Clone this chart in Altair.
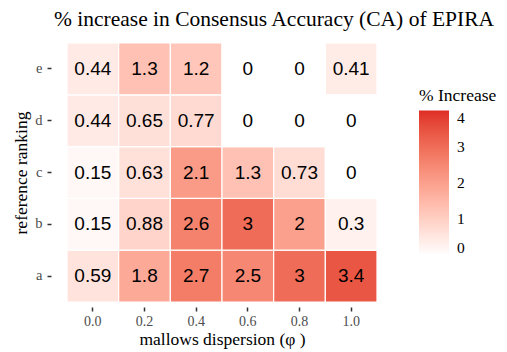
import altair as alt
import pandas as pd

dispersion = ["0.0", "0.2", "0.4", "0.6", "0.8", "1.0"]
rankings = ["a", "b", "c", "d", "e"]
values = {
    "e": [0.44, 1.3, 1.2, 0, 0, 0.41],
    "d": [0.44, 0.65, 0.77, 0, 0, 0],
    "c": [0.15, 0.63, 2.1, 1.3, 0.73, 0],
    "b": [0.15, 0.88, 2.6, 3, 2, 0.3],
    "a": [0.59, 1.8, 2.7, 2.5, 3, 3.4],
}

rows = []
for r in rankings:
    for d, v in zip(dispersion, values[r]):
        rows.append({"disp": d, "rank": r, "val": v})
df = pd.DataFrame(rows)

serif = "Liberation Serif"

x = alt.X("disp:O", sort=dispersion, title="mallows dispersion (φ )",
          scale=alt.Scale(paddingInner=0, paddingOuter=0),
          axis=alt.Axis(labelAngle=0, domain=False, tickSize=4, tickColor="#333333",
                        tickWidth=1.5, labelColor="#4D4D4D", labelFont=serif, labelFontSize=14,
                        labelPadding=3, offset=5, titleFont=serif, titleFontSize=17.5,
                        titleFontWeight="normal", titleColor="#000000",
                        titleBaseline="alphabetic", titleY=37))
y = alt.Y("rank:O", sort=list(reversed(rankings)), title="reference ranking",
          scale=alt.Scale(paddingInner=0, paddingOuter=0),
          axis=alt.Axis(domain=False, tickSize=4, tickColor="#333333", tickWidth=1.5,
                        labelColor="#4D4D4D", labelFont=serif, labelFontSize=14.5,
                        labelPadding=5, offset=16, titleFont=serif, titleFontSize=17.5,
                        titleFontWeight="normal", titleColor="#000000", titlePadding=4))

rect = alt.Chart(df).mark_rect(stroke="white", strokeWidth=1.2).encode(
    x=x, y=y,
    color=alt.Color("val:Q", title="% Increase",
                    scale=alt.Scale(domain=[0, 4], range=["#ffffff", "#de2d26"],
                                    interpolate="lab"),
                    legend=alt.Legend(orient="none", legendX=352, legendY=44,
                                      gradientLength=145, gradientThickness=30,
                                      direction="vertical", tickCount=5,
                                      titleFont=serif, titleFontSize=17.5, titleFontWeight="normal",
                                      titleColor="#000000", labelFont=serif, labelFontSize=15.5,
                                      labelColor="#000000", titlePadding=6, labelOffset=8,
                                      gradientStrokeWidth=0)),
)

text = alt.Chart(df).mark_text(font="Liberation Sans", fontSize=19, color="black").encode(
    x=alt.X("disp:O", sort=dispersion),
    y=alt.Y("rank:O", sort=list(reversed(rankings))),
    text=alt.Text("val:Q", format=".2~g"),
)

chart = (rect + text).properties(
    width=310, height=259,
    autosize=alt.AutoSizeParams(type="none"),
    padding={"left": 59, "top": 35, "right": 122, "bottom": 48},
    title=alt.TitleParams("% increase in Consensus Accuracy (CA) of EPIRA", font=serif,
                          fontSize=21.5, fontWeight="normal", color="#000000",
                          anchor="middle", frame="group", dx=52, offset=12),
).configure_view(stroke=None)

chart.save("out.html", embed_options={"renderer": "svg", "actions": False})
